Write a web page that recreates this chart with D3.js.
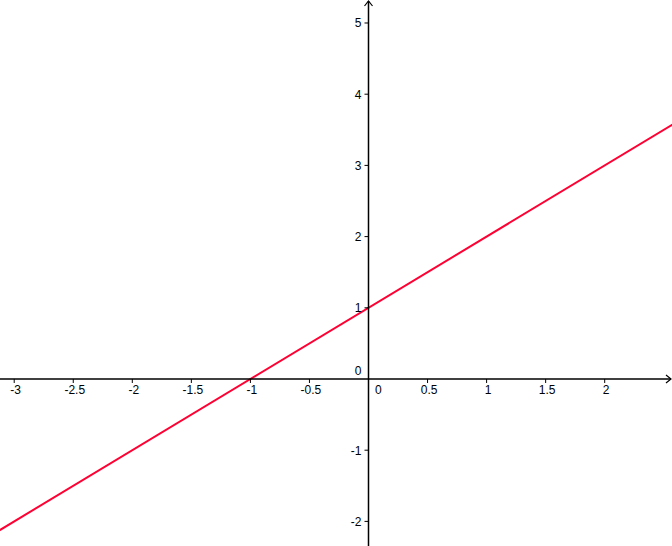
<!DOCTYPE html>
<html>
<head>
<meta charset="utf-8">
<script src="https://cdn.jsdelivr.net/npm/d3@7"></script>
<style>
  html, body { margin: 0; padding: 0; background: #fff; }
  svg { display: block; }
  text { font-family: "Liberation Sans", Arial, sans-serif; font-size: 12px; fill: #000; }
</style>
</head>
<body>
<svg id="chart" width="672" height="546"></svg>
<script>
// Data
const xTicks = [-3, -2.5, -2, -1.5, -1, -0.5, 0.5, 1, 1.5, 2];
const xTickLabels = ["-3", "-2.5", "-2", "-1.5", "-1", "-0.5", "0.5", "1", "1.5", "2"];
const yTicks = [-2, -1, 1, 2, 3, 4, 5];
const yTickLabels = ["-2", "-1", "1", "2", "3", "4", "5"];
// Line y = x + 1 : endpoints read at the picture edges
const lineX = [-3.2, 2.6];
const lineY = [-2.2, 3.6];

const W = 672, H = 546;
const svg = d3.select("#chart");

// origin ~ (368.5, 379), 118.1 px per x-unit, 71.2 px per y-unit
const x = d3.scaleLinear().domain([-3.1203, 2.5699]).range([0, W]);
const y = d3.scaleLinear().domain([5.3230, -2.3455]).range([0, H]);

const x0 = x(0), y0 = y(0);

// Red line
svg.append("path")
  .datum(lineX.map((v, i) => [v, lineY[i]]))
  .attr("d", d3.line().x(d => x(d[0])).y(d => y(d[1])))
  .attr("fill", "none")
  .attr("stroke", "#ff0033")
  .attr("stroke-width", 2);

const axisColor = "#000";
// x axis line
svg.append("line")
  .attr("x1", 0).attr("x2", W - 1)
  .attr("y1", y0).attr("y2", y0)
  .attr("stroke", axisColor).attr("stroke-width", 1.5);
// x arrow
svg.append("path")
  .attr("d", `M${W - 6},${y0 - 4} L${W - 1},${y0} L${W - 6},${y0 + 4}`)
  .attr("fill", "none").attr("stroke", axisColor).attr("stroke-width", 1.2);

// y axis line
svg.append("line")
  .attr("x1", x0).attr("x2", x0)
  .attr("y1", 1).attr("y2", H)
  .attr("stroke", axisColor).attr("stroke-width", 1.5);
// y arrow
svg.append("path")
  .attr("d", `M${x0 - 4},${6} L${x0},${1} L${x0 + 4},${6}`)
  .attr("fill", "none").attr("stroke", axisColor).attr("stroke-width", 1.2);

// x ticks
const xt = svg.append("g");
xt.selectAll("line").data(xTicks).join("line")
  .attr("x1", d => x(d)).attr("x2", d => x(d))
  .attr("y1", y0).attr("y2", y0 + 4)
  .attr("stroke", axisColor).attr("stroke-width", 1);
xt.selectAll("text").data(xTicks).join("text")
  .attr("x", d => x(d) + 1.5)
  .attr("y", y0 + 15.5)
  .attr("text-anchor", "middle")
  .text((d, i) => xTickLabels[i]);

// y ticks
const yt = svg.append("g");
yt.selectAll("line").data(yTicks).join("line")
  .attr("x1", x0 - 4).attr("x2", x0)
  .attr("y1", d => y(d)).attr("y2", d => y(d))
  .attr("stroke", axisColor).attr("stroke-width", 1);
yt.selectAll("text").data(yTicks).join("text")
  .attr("x", x0 - 7)
  .attr("y", d => y(d) + 4.5)
  .attr("text-anchor", "end")
  .text((d, i) => yTickLabels[i]);

// origin labels
svg.append("text").attr("x", x0 - 7).attr("y", y0 - 3.5).attr("text-anchor", "end").text("0");
svg.append("text").attr("x", x0 + 6.5).attr("y", y0 + 15.5).attr("text-anchor", "start").text("0");
</script>
</body>
</html>
